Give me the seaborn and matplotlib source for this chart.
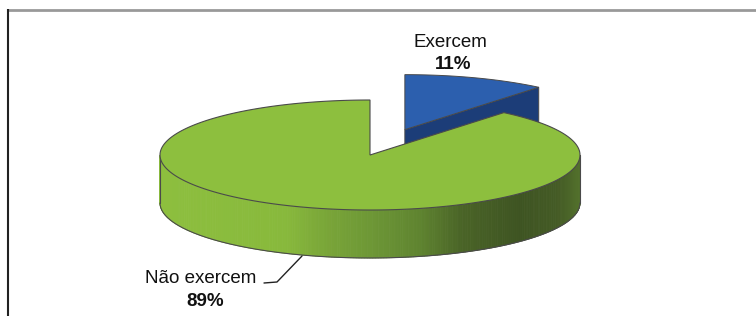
import numpy as np
import seaborn as sns
import matplotlib
from matplotlib import pyplot as plt
from matplotlib.patches import Polygon
from matplotlib.colors import LinearSegmentedColormap

matplotlib.use("Agg")

labels = ["Exercem", "Não exercem"]
values = [11, 89]
top_colors = ["#2c5fae", "#8dbf3e"]
side_colors = ["#1c3d78", None]

sns.set_theme(style="white")
plt.rcParams["font.family"] = ["Liberation Sans", "DejaVu Sans"]

fig = plt.figure(figsize=(7.56, 3.16), dpi=100)
ax = fig.add_axes([0, 0, 1, 1])
ax.set_xlim(0, 756)
ax.set_ylim(316, 0)
ax.axis("off")

# pie geometry in pixel space
cx, cy = 370, 155
rx, ry = 210, 55
depth = 48
explode = 0.49
edge = "#4a4a4a"

side_cmap = LinearSegmentedColormap.from_list(
    "side",
    [
        (0.0, "#8dbf3e"),
        (0.30, "#88b93c"),
        (0.40, "#79a538"),
        (0.50, "#6e9836"),
        (0.62, "#5f8430"),
        (0.72, "#4a6427"),
        (0.86, "#3e5422"),
        (0.95, "#445b25"),
        (1.0, "#52702c"),
    ],
)


def pt(x0, y0, theta_deg):
    t = np.radians(theta_deg)
    return x0 + rx * np.cos(t), y0 - ry * np.sin(t)


total = sum(values)
spans = [v / total * 360 for v in values]
# first slice starts at 12 o'clock and runs clockwise
start_small = 90 - spans[0]
end_small = 90
mid = np.radians((start_small + end_small) / 2)
bx = cx + explode * rx * np.cos(mid)
by = cy - explode * ry * np.sin(mid)

# blue slice: cut face along its lower radial edge, then top face
p1 = pt(bx, by, start_small)
face = [(bx, by), p1, (p1[0], p1[1] + depth), (bx, by + depth)]
ax.add_patch(Polygon(face, closed=True, facecolor=side_colors[0], edgecolor=edge, lw=0.7, zorder=1))
arc = [pt(bx, by, a) for a in np.linspace(start_small, end_small, 60)]
ax.add_patch(Polygon([(bx, by)] + arc, closed=True, facecolor=top_colors[0], edgecolor=edge, lw=0.7, zorder=2))

# green slice: front side with gradient
angles = np.linspace(180, 360, 241)
for a0, a1 in zip(angles[:-1], angles[1:]):
    q0, q1 = pt(cx, cy, a0), pt(cx, cy, a1)
    frac = ((q0[0] + q1[0]) / 2 - (cx - rx)) / (2 * rx)
    strip = [q0, q1, (q1[0], q1[1] + depth), (q0[0], q0[1] + depth)]
    ax.add_patch(Polygon(strip, closed=True, facecolor=side_cmap(frac), edgecolor=side_cmap(frac), lw=0.6, zorder=3))
bottom = np.array([pt(cx, cy, a) for a in angles])
ax.plot(bottom[:, 0], bottom[:, 1] + depth, color=edge, lw=0.8, zorder=4)
ax.plot([cx - rx, cx - rx], [cy, cy + depth], color=edge, lw=0.8, zorder=4)
ax.plot([cx + rx, cx + rx], [cy, cy + depth], color=edge, lw=0.8, zorder=4)

arc = [pt(cx, cy, a) for a in np.linspace(end_small, start_small + 360, 400)]
ax.add_patch(Polygon([(cx, cy)] + arc, closed=True, facecolor=top_colors[1], edgecolor=edge, lw=0.8, zorder=5))

# labels
fs = 13.5
ax.text(450, 47, labels[0], ha="center", va="baseline", fontsize=fs, color="#111111")
ax.text(453, 69, f"{values[0]}%", ha="center", va="baseline", fontsize=fs, fontweight="bold", color="#111111")
ax.text(201, 283, labels[1], ha="center", va="baseline", fontsize=fs, color="#111111")
ax.text(205, 306, f"{values[1]}%", ha="center", va="baseline", fontsize=fs, fontweight="bold", color="#111111")
ax.plot([264, 277, 302], [283, 282, 256], color="#222222", lw=1.0, zorder=6)

# frame
ax.plot([8, 756], [9.5, 9.5], color="#999999", lw=2, solid_capstyle="butt")
ax.plot([8, 8], [9, 316], color="#222222", lw=1.5, solid_capstyle="butt")

fig.savefig("out.png", dpi=100)
